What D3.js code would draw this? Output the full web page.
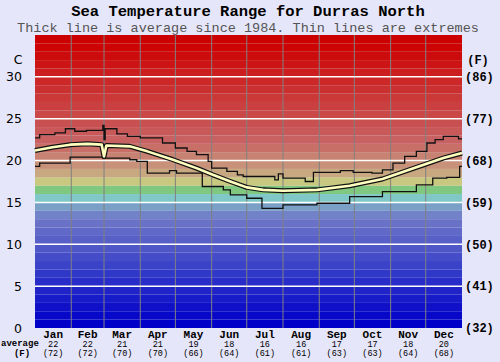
<!DOCTYPE html>
<html>
<head>
<meta charset="utf-8">
<script src="https://cdn.jsdelivr.net/npm/d3@7"></script>
<style>
  body { margin: 0; background: #e6e6fa; }
  svg { display: block; }
</style>
</head>
<body>
<svg id="chart" width="500" height="362"></svg>
<script>
// month names and rounded monthly averages (C and F)
const months = ["Jan", "Feb", "Mar", "Apr", "May", "Jun", "Jul", "Aug", "Sep", "Oct", "Nov", "Dec"];
const monthDays = [31, 28, 31, 30, 31, 30, 31, 31, 30, 31, 30, 31];
const avgC = [22, 22, 21, 21, 19, 18, 16, 16, 17, 17, 18, 20];
const avgF = [72, 72, 70, 70, 66, 64, 61, 61, 63, 63, 64, 68];

// y ticks, celsius and fahrenheit
const cTicks = [0, 5, 10, 15, 20, 25, 30];
const fTicks = [32, 41, 50, 59, 68, 77, 86];

// series: [day of year, temperature C]
const maxSeries = [
  [0, 22.7], [4, 23.1], [17, 23.3], [26, 23.8], [34, 23.5], [44, 23.6], [58, 24.2], [59, 22.5],
  [60, 23.8], [70, 23.2], [79, 22.9], [90, 22.7], [109, 22.1], [120, 21.5], [130, 21.1],
  [138, 20.7], [148, 19.9], [151, 19.1], [164, 18.7], [173, 18.3], [178, 18.1], [205, 17.7],
  [208, 18.4], [212, 17.9], [231, 17.5], [238, 18.6], [261, 18.8], [272, 18.6], [288, 18.5],
  [297, 18.9], [306, 19.7], [316, 20.5], [326, 21.1], [335, 22.1], [342, 22.5], [349, 22.9],
  [362, 22.6], [365, 22.6]
];
const avgSeries = [
  [0, 21.2], [15, 21.6], [30, 21.9], [45, 22.0], [57, 21.9], [59, 20.5], [61, 21.8], [81, 21.7],
  [96, 21.1], [118, 20.1], [138, 19.1], [152, 18.3], [167, 17.5], [181, 16.8], [195, 16.5],
  [212, 16.4], [241, 16.5], [269, 17.0], [297, 17.8], [326, 19.2], [349, 20.3], [365, 20.9]
];
const minSeries = [
  [0, 19.3], [4, 19.7], [30, 20.4], [58, 20.3], [81, 20.1], [87, 19.9], [96, 18.5], [115, 18.8],
  [121, 18.5], [143, 16.9], [161, 16.5], [167, 15.9], [181, 15.5], [194, 14.3], [212, 14.7],
  [241, 14.9], [269, 15.7], [297, 16.3], [326, 17.1], [340, 17.9], [352, 18.0], [363, 19.3],
  [365, 19.3]
];

// one colour band per degree, 0..34
const bandColors = [
  "#0000c8", "#0808c8", "#1010c8", "#181cc8", "#2024c8", "#282cc8", "#3038c8", "#3a42c8",
  "#444cc8", "#4e56c8", "#5860c8", "#6068c8", "#6a72c8", "#7282c8", "#7aa0c8", "#80c8c8",
  "#80c880", "#c8c880", "#c8a880", "#c8927a", "#c88272", "#c87068", "#c86262", "#c95858",
  "#c95050", "#ca4848", "#ca4040", "#cb3838", "#cb3030", "#cc2828", "#cc1e1e", "#cc1414",
  "#cc0c0c", "#cc0404", "#cc0000"
];

const svg = d3.select("#chart");
const margin = { left: 35, right: 38, top: 35, bottom: 34 };
const width = 500 - margin.left - margin.right;
const height = 362 - margin.top - margin.bottom;

const x = d3.scaleLinear().domain([0, 365]).range([0, width]);
const y = d3.scaleLinear().domain([0, 35]).range([height, 0]);
const yF = d3.scaleLinear().domain([32, 95]).range([height, 0]);

const starts = d3.cumsum([0].concat(monthDays));
const mono = "Liberation Mono, monospace";

// titles
svg.append("text")
  .attr("x", 248).attr("y", 15.5)
  .attr("text-anchor", "middle")
  .attr("font-family", mono)
  .attr("font-weight", "bold").attr("font-size", 15.5)
  .text("Sea Temperature Range for Durras North");
svg.append("text")
  .attr("x", 248).attr("y", 31.5)
  .attr("text-anchor", "middle")
  .attr("font-family", mono)
  .attr("font-size", 13.5).attr("fill", "#555")
  .text("Thick line is average since 1984. Thin lines are extremes");

const g = svg.append("g").attr("transform", `translate(${margin.left},${margin.top})`);

// colour bands
g.selectAll(".band")
  .data(bandColors)
  .join("rect")
  .attr("class", "band")
  .attr("x", 0)
  .attr("width", width)
  .attr("y", (d, i) => y(i + 1))
  .attr("height", (d, i) => y(i) - y(i + 1))
  .attr("fill", d => d);

// month gridlines
g.selectAll(".vgrid")
  .data(starts.slice(1, 12))
  .join("line")
  .attr("class", "vgrid")
  .attr("x1", d => x(d)).attr("x2", d => x(d))
  .attr("y1", 0).attr("y2", height)
  .attr("stroke", "#808080").attr("stroke-width", 1);

// white degree gridlines
g.selectAll(".hgrid")
  .data(cTicks.filter(d => d > 0))
  .join("line")
  .attr("class", "hgrid")
  .attr("x1", 0).attr("x2", width)
  .attr("y1", d => y(d)).attr("y2", d => y(d))
  .attr("stroke", "#fff").attr("stroke-width", 1.5);

// lines
const stepLine = d3.line().x(d => x(d[0])).y(d => y(d[1])).curve(d3.curveStepAfter);
const avgLine = d3.line().x(d => x(d[0])).y(d => y(d[1]));

[maxSeries, minSeries].forEach(s => {
  g.append("path").datum(s)
    .attr("d", stepLine)
    .attr("fill", "none").attr("stroke", "#111").attr("stroke-width", 1.3);
});
g.append("path").datum(avgSeries)
  .attr("d", avgLine)
  .attr("fill", "none").attr("stroke", "#111").attr("stroke-width", 5)
  .attr("stroke-linejoin", "round");
g.append("path").datum(avgSeries)
  .attr("d", avgLine)
  .attr("fill", "none").attr("stroke", "#ffffc0").attr("stroke-width", 2.6)
  .attr("stroke-linejoin", "round");

// left axis (C)
const yAxis = d3.axisLeft(y).tickValues(cTicks).tickSize(0).tickPadding(13);
g.append("g").call(yAxis)
  .call(a => a.select(".domain").remove())
  .call(a => a.selectAll("text")
    .attr("font-family", "DejaVu Sans, sans-serif")
    .attr("font-size", 12.5).attr("fill", "#000"));
g.append("text")
  .attr("x", -17).attr("y", y(32))
  .attr("dy", "0.35em").attr("text-anchor", "middle")
  .attr("font-family", "DejaVu Sans, sans-serif").attr("font-size", 12.5)
  .text("C");

// right axis (F)
const yAxisR = d3.axisRight(yF).tickValues(fTicks).tickSize(0).tickPadding(3)
  .tickFormat(d => `(${d})`);
g.append("g").attr("transform", `translate(${width},0)`).call(yAxisR)
  .call(a => a.select(".domain").remove())
  .call(a => a.selectAll("text")
    .attr("font-family", mono)
    .attr("font-weight", "bold").attr("font-size", 12).attr("fill", "#000"));
g.append("text")
  .attr("x", width + 16).attr("y", y(32))
  .attr("dy", "0.35em").attr("text-anchor", "middle")
  .attr("font-family", mono)
  .attr("font-weight", "bold").attr("font-size", 12)
  .text("(F)");

// month labels and averages
const mid = (d, i) => x(starts[i] + monthDays[i] / 2);
g.selectAll(".mname")
  .data(months)
  .join("text")
  .attr("class", "mname")
  .attr("x", mid).attr("y", height + 10)
  .attr("text-anchor", "middle")
  .attr("font-family", mono).attr("font-weight", "bold").attr("font-size", 11)
  .text(d => d);
g.selectAll(".mavg")
  .data(avgC)
  .join("text")
  .attr("class", "mavg")
  .attr("x", mid).attr("y", height + 18.5)
  .attr("text-anchor", "middle")
  .attr("font-family", mono).attr("font-size", 8.5)
  .text(d => d);
g.selectAll(".mavgf")
  .data(avgF)
  .join("text")
  .attr("class", "mavgf")
  .attr("x", mid).attr("y", height + 27.5)
  .attr("text-anchor", "middle")
  .attr("font-family", mono).attr("font-size", 8.5)
  .text(d => `(${d})`);
svg.append("text")
  .attr("x", 1).attr("y", margin.top + height + 18)
  .attr("font-family", mono).attr("font-weight", "bold").attr("font-size", 9)
  .text("average");
svg.append("text")
  .attr("x", 22).attr("y", margin.top + height + 27.5)
  .attr("text-anchor", "middle")
  .attr("font-family", mono).attr("font-weight", "bold").attr("font-size", 9)
  .text("(F)");
</script>
</body>
</html>
